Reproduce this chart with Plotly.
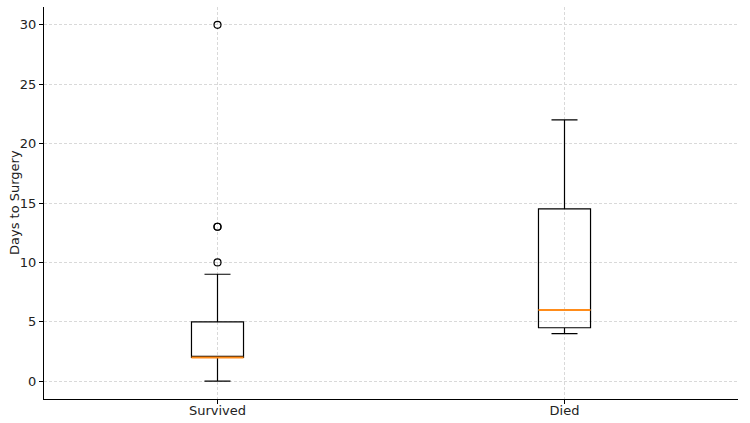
import plotly.graph_objects as go

categories = ["Survived", "Died"]
positions = [1, 2]
q1 = [2, 4.5]
median = [2, 6]
q3 = [5, 14.5]
lower_whisker = [0, 4]
upper_whisker = [9, 22]
outliers = [[10, 13, 13, 30], []]
y_ticks = [0, 5, 10, 15, 20, 25, 30]

BOX_W = 0.15

fig = go.Figure()
for i, cat in enumerate(categories):
    fig.add_trace(go.Box(
        x=[positions[i]], q1=[q1[i]], median=[median[i]], q3=[q3[i]],
        lowerfence=[lower_whisker[i]], upperfence=[upper_whisker[i]],
        width=BOX_W, whiskerwidth=0.5, boxpoints=False,
        line=dict(color="black", width=1.2), fillcolor="rgba(0,0,0,0)",
        showlegend=False, name=cat, hoverinfo="skip",
    ))
    fig.add_trace(go.Scatter(
        x=[positions[i] - BOX_W / 2, positions[i] + BOX_W / 2],
        y=[median[i], median[i]], mode="lines",
        line=dict(color="#ff8c1a", width=2), showlegend=False, hoverinfo="skip",
    ))
    if outliers[i]:
        fig.add_trace(go.Scatter(
            x=[positions[i]] * len(outliers[i]), y=outliers[i], mode="markers",
            marker=dict(symbol="circle-open", size=7, color="black", line=dict(width=1.2)),
            showlegend=False, hoverinfo="skip",
        ))

grid = dict(showgrid=True, gridcolor="#d9d9d9", gridwidth=0.8, griddash="3px,2px")
fig.update_layout(
    width=750, height=423,
    margin=dict(l=44, r=12, t=7, b=24),
    paper_bgcolor="white", plot_bgcolor="white",
    font=dict(family="DejaVu Sans", size=13, color="#222"),
    xaxis=dict(range=[0.5, 2.5], tickvals=positions, ticktext=categories,
               showline=True, linecolor="black", linewidth=1, ticks="outside",
               ticklen=4, tickcolor="black", zeroline=False, automargin=False,
               ticklabelstandoff=-5, **grid),
    yaxis=dict(range=[-1.5, 31.5], tickvals=y_ticks,
               showline=True, linecolor="black", linewidth=1, ticks="outside",
               ticklen=4, tickcolor="black", zeroline=False, automargin=False, **grid),
    annotations=[dict(text="Days to Surgery", xref="paper", yref="paper", x=0, y=0.5,
                      xanchor="center", yanchor="middle", xshift=-30, textangle=-90,
                      showarrow=False, font=dict(size=13, color="#222"))],
)
fig.write_html("out.html")
